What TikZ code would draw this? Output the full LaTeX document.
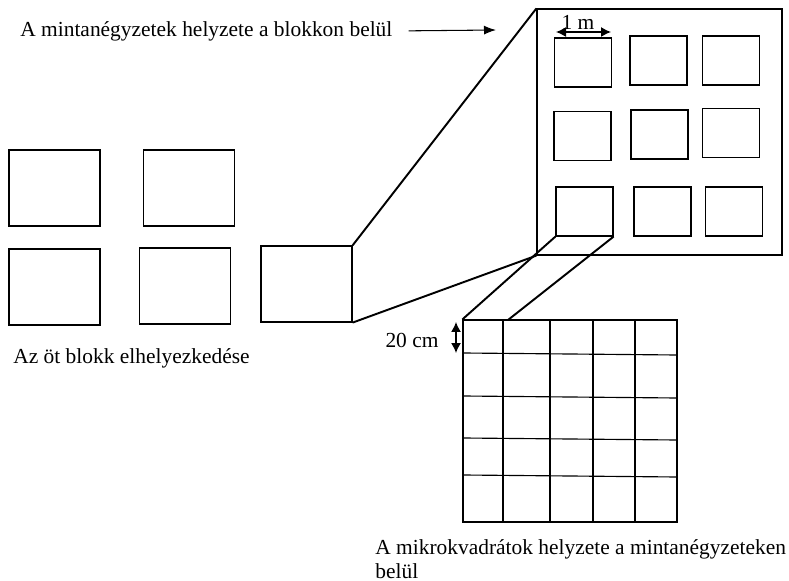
\documentclass[tikz,border=0pt]{standalone}
\usepackage{fontspec}
\setmainfont{Liberation Serif}
\usetikzlibrary{positioning, arrows.meta}

\begin{document}
\begin{tikzpicture}[x=0.02cm, y=-0.02cm, font=\fontsize{12.2}{13.6}\selectfont,
  blokk/.style={draw, line width=0.7pt, minimum width=1.82cm, minimum height=1.52cm, inner sep=0pt},
  mnegy/.style={draw, line width=0.7pt, minimum width=1.14cm, minimum height=0.98cm, inner sep=0pt},
  racsvonal/.style={line width=0.65pt},
  vonal/.style={line width=1.1pt},
  nyil/.style={-{Latex[length=2.4mm, width=1.8mm]}, line width=0.6pt},
  ketnyil/.style={{Latex[length=2mm, width=2mm]}-{Latex[length=2mm, width=2mm]}, line width=0.75pt},
  felirat/.style={inner sep=0pt, anchor=west}
]
  \useasboundingbox (0,0) rectangle (789,581);

  % az ot blokk
  \node[blokk] (b1) at (54.5,188) {};
  \node[blokk] (b2) at (189,188) {};
  \node[blokk] (b3) at (54.5,287) {};
  \node[blokk] (b4) at (185,286) {};
  \node[blokk] (b5) at (306.5,284) {};
  \node[felirat] (cim2) at (13,358) {Az öt blokk elhelyezkedése};

  % a blokk nagyitva, benne a mintanegyzetek
  \node[draw, line width=0.7pt, minimum width=4.9cm, minimum height=4.92cm] (nagy) at (659.5,132) {};
  \node[mnegy] (m1) at (583,62.5) {};
  \node[mnegy] (m2) at (658.5,60.5) {};
  \node[mnegy] (m3) at (731,60.5) {};
  \node[mnegy] (m4) at (582.5,136) {};
  \node[mnegy] (m5) at (659.5,134.5) {};
  \node[mnegy] (m6) at (731,133) {};
  \node[mnegy] (m7) at (584.5,211.5) {};
  \node[mnegy] (m8) at (662.5,211.5) {};
  \node[mnegy] (m9) at (734,211.5) {};

  \draw[vonal] (b5.north east) -- (nagy.north west);
  \draw[vonal] (b5.south east) -- (nagy.south west);

  \node[felirat] (cim1) at (20,31) {A mintanégyzetek helyzete a blokkon belül};
  \coordinate (nyilveg) at (496,30);
  \draw[nyil, shorten <=0.32cm] (cim1.east) -- (nyilveg);

  \coordinate (egym1) at (556,32);
  \coordinate (egym2) at (611,32);
  \draw[ketnyil] (egym1) -- (egym2);
  \node (egym) at (578,22) {1 m};

  % mikrokvadratok
  \node[draw, line width=0.7pt, minimum width=4.28cm, minimum height=4.04cm, inner sep=0pt] (racs) at (570,421) {};
  \foreach \x in {503,550,593,635}
    \draw[racsvonal] (\x,320) -- (\x,522);
  \foreach \y in {353,396,438,475}
    \draw[racsvonal] (463,\y) -- (677,\y+2);

  \coordinate (racsfelso) at (508,320);
  \draw[vonal] (m7.south west) -- (racs.north west);
  \draw[vonal] (m7.south east) -- (racsfelso);

  \coordinate (husz1) at (456,322);
  \coordinate (husz2) at (456,353);
  \draw[ketnyil] (husz1) -- (husz2);
  \node (husz) at (412,340) {20 cm};

  \node[felirat, align=left] (cim3) at (375,559) {A mikrokvadrátok helyzete a mintanégyzeteken\\belül};
\end{tikzpicture}
\end{document}
